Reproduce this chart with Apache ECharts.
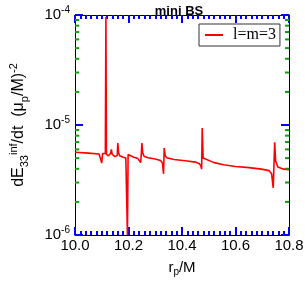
<!DOCTYPE html>
<html>
<head>
<meta charset="utf-8">
<script src="https://cdn.jsdelivr.net/npm/echarts@6/dist/echarts.min.js"></script>
<style>
html,body{margin:0;padding:0;background:#fff;}
#chart{width:305px;height:282px;}
</style>
</head>
<body>
<div id="chart"></div>
<script>
// r_p/M values
const rp = [
  10.000, 10.050, 10.090, 10.097, 10.100, 10.103, 10.106, 10.110, 10.1135, 10.1155,
  10.1175, 10.120, 10.125, 10.130, 10.133, 10.136, 10.139, 10.145, 10.150, 10.156,
  10.158, 10.160, 10.163, 10.167, 10.180, 10.190, 10.1935, 10.196, 10.1985, 10.203,
  10.220, 10.235, 10.242, 10.2455, 10.248, 10.250, 10.253, 10.258, 10.273, 10.300,
  10.320, 10.327, 10.331, 10.3335, 10.337, 10.343, 10.370, 10.420, 10.450, 10.465,
  10.470, 10.4735, 10.4755, 10.479, 10.485, 10.520, 10.556, 10.600, 10.650, 10.697,
  10.725, 10.735, 10.741, 10.7465, 10.750, 10.758, 10.780, 10.800
];
// dE_33/dt values
const dEdt = [
  5.65e-6, 5.55e-6, 5.45e-6, 5.3e-6, 4.5e-6, 5.5e-6, 5.6e-6, 5.5e-6, 5.5e-6, 9.6e-5,
  5.4e-6, 5.3e-6, 5.25e-6, 5.2e-6, 5.5e-6, 6.0e-6, 5.4e-6, 5.2e-6, 5.15e-6, 5.05e-6,
  5.3e-6, 6.84e-6, 5.6e-6, 5.25e-6, 5.1e-6, 5.0e-6, 4.85e-6, 1.0e-6, 5.4e-6, 5.3e-6,
  5.1e-6, 4.95e-6, 4.85e-6, 4.55e-6, 5.5e-6, 6.84e-6, 5.6e-6, 5.2e-6, 5.03e-6, 4.9e-6,
  4.75e-6, 4.5e-6, 3.6e-6, 6.17e-6, 5.3e-6, 5.03e-6, 4.85e-6, 4.7e-6, 4.6e-6, 4.45e-6,
  4.25e-6, 3.97e-6, 9.4e-6, 5.0e-6, 4.87e-6, 4.55e-6, 4.35e-6, 4.2e-6, 4.1e-6, 3.97e-6,
  3.85e-6, 3.6e-6, 2.68e-6, 6.97e-6, 4.7e-6, 4.16e-6, 3.97e-6, 3.92e-6
];
// tick values and labels
const xTickValues = [10.0, 10.2, 10.4, 10.6, 10.8];
const xTickLabels = ['10.0', '10.2', '10.4', '10.6', '10.8'];
const yTickValues = [1e-6, 1e-5, 1e-4];
const yTickExponents = ['-6', '-5', '-4'];
const yMinorTicks = [2e-6,3e-6,4e-6,5e-6,6e-6,7e-6,8e-6,9e-6,2e-5,3e-5,4e-5,5e-5,6e-5,7e-5,8e-5,9e-5];
const X_MIN = 10.0, X_MAX = 10.8, Y_MIN = 1e-6, Y_MAX = 1e-4;

const FONT = 'Liberation Sans, Arial, sans-serif';
const SERIF = 'Liberation Serif, Times New Roman, serif';
const TICK = '#00f';
function xAxisCfg(pos){
  return {
    type:'value', min:X_MIN, max:X_MAX, interval:0.2, position:pos,
    axisLine:{show:true, onZero:false, lineStyle:{color:'#000', width:1}},
    axisTick:{show:true, inside:true, length:8, lineStyle:{color:TICK, width:2}},
    minorTick:{show:true, splitNumber:10, length:4, lineStyle:{color:TICK, width:2}},
    axisLabel:{show:false},
    splitLine:{show:false}, minorSplitLine:{show:false}
  };
}
function yAxisCfg(pos){
  return {
    type:'log', min:Y_MIN, max:Y_MAX, position:pos,
    axisLine:{show:true, onZero:false, lineStyle:{color:'#000', width:1}},
    axisTick:{show:true, inside:true, length:8, lineStyle:{color:TICK, width:2}},
    axisLabel:{show:false},
    splitLine:{show:false}
  };
}
const xBottom = xAxisCfg('bottom');
xBottom.name = 'r{s|p}/M';
xBottom.nameLocation = 'middle';
xBottom.nameGap = 24;
xBottom.nameTextStyle = {fontFamily:FONT, fontSize:15, color:'#000',
  rich:{s:{fontFamily:FONT, fontSize:10, color:'#000', verticalAlign:'bottom', padding:[8,0,0,0]}}};
const xTop = xAxisCfg('top');

const yLeft = yAxisCfg('left');
yLeft.name = 'dE{sub|33}{sup|inf}/dt  (μ{sub|p}/M){sup|-2}';
yLeft.nameLocation = 'middle';
yLeft.nameGap = 45;
yLeft.nameRotate = 90;
yLeft.nameTextStyle = {fontFamily:FONT, fontSize:16, color:'#000', lineHeight:22,
  rich:{sub:{fontFamily:FONT, fontSize:11, color:'#000', verticalAlign:'bottom', padding:[8,0,0,0]},
        sup:{fontFamily:FONT, fontSize:11, color:'#000', verticalAlign:'top', padding:[0,0,8,0]}}};
const yRight = yAxisCfg('right');

const option = {
  animation:false,
  backgroundColor:'#fff',
  title:{text:'mini BS', left:174, top:0, textAlign:'center',
    textStyle:{fontFamily:FONT, fontWeight:'bold', fontSize:13, color:'#000'}},
  grid:{left:63, right:16, top:15, bottom:41},
  legend:{
    left:199, top:24, orient:'vertical',
    borderColor:'#333', borderWidth:1, borderRadius:0,
    padding:[3,4,3,6], itemWidth:18, itemHeight:2, icon:'rect',
    textStyle:{fontFamily:SERIF, fontSize:16, color:'#000', padding:[0,0,0,5]},
    data:['l=m=3']
  },
  xAxis:[xBottom, xTop],
  yAxis:[yLeft, yRight],
  series:[
    {
      name:'l=m=3', type:'line', xAxisIndex:0, yAxisIndex:0,
      data: rp.map((x,i)=>[x, dEdt[i]]),
      showSymbol:false, symbol:'none',
      lineStyle:{color:'#ff0000', width:1.6},
      itemStyle:{color:'#ff0000'},
      clip:true
    },
    {
      name:'minorY', type:'custom', xAxisIndex:0, yAxisIndex:0, silent:true, z:10,
      data: yMinorTicks.map(v=>[X_MIN, v]),
      encode:{x:0, y:1},
      renderItem:function(params, api){
        const v = api.value(1);
        const pL = api.coord([X_MIN, v]);
        const pR = api.coord([X_MAX, v]);
        return {type:'group', children:[
          {type:'line', shape:{x1:pL[0], y1:pL[1], x2:pL[0]+4, y2:pL[1]}, style:{stroke:'#0a0', lineWidth:2}},
          {type:'line', shape:{x1:pR[0], y1:pR[1], x2:pR[0]-4, y2:pR[1]}, style:{stroke:'#0a0', lineWidth:2}}
        ]};
      }
    },
    {
      name:'xLabels', type:'custom', xAxisIndex:0, yAxisIndex:0, silent:true, clip:false, z:10,
      data: xTickValues.map(v=>[v, Y_MIN]),
      encode:{x:0, y:1},
      renderItem:function(params, api){
        const p = api.coord([api.value(0), Y_MIN]);
        return {type:'text', x:p[0], y:p[1] + 3, style:{
          text: xTickLabels[params.dataIndex], fill:'#000',
          fontFamily:FONT, fontSize:15,
          textAlign:'center', align:'center', verticalAlign:'top', textVerticalAlign:'top'
        }};
      }
    },
    {
      name:'yLabels', type:'custom', xAxisIndex:0, yAxisIndex:0, silent:true, clip:false, z:10,
      data: yTickValues.map(v=>[X_MIN, v]),
      encode:{x:0, y:1},
      renderItem:function(params, api){
        const p = api.coord([X_MIN, api.value(1)]);
        return {type:'text', x:p[0] - 5, y:p[1], style:{
          text: '{b|10}{s|' + yTickExponents[params.dataIndex] + '}', fill:'#000',
          fontFamily:FONT, fontSize:15,
          textAlign:'right', align:'right', verticalAlign:'middle', textVerticalAlign:'middle',
          rich:{b:{fontFamily:FONT, fontSize:15, fill:'#000', lineHeight:18},
                s:{fontFamily:FONT, fontSize:10, fill:'#000', verticalAlign:'top', padding:[0,0,10,0]}}
        }};
      }
    }
  ]
};
const chart = echarts.init(document.getElementById('chart'));
chart.setOption(option);
</script>
</body>
</html>
